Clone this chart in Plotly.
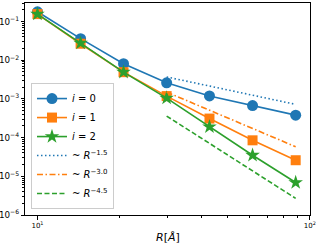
import plotly.graph_objects as go
import math

R = [10, 14.4, 20.7, 29.8, 42.8, 61.6, 88.7]
i0 = [0.178, 0.036, 0.0081, 0.0026, 0.00119, 0.00067, 0.00038]
i1 = [0.155, 0.0266, 0.0049, 0.00118, 0.00031, 8.5e-5, 2.6e-5]
i2 = [0.155, 0.0276, 0.0049, 0.00105, 1.9e-4, 3.5e-5, 6.9e-6]

R_fit = [29.8, 88.7]
fit15 = [3.69e-3, 7.2e-4]
fit30 = [1.5e-3, 5.8e-5]
fit45 = [3.6e-4, 2.69e-6]

x_tickvals = [10, 100]
x_ticktext = ["10<sup>1</sup>", "10<sup>2</sup>"]

BLUE, ORANGE, GREEN = "#1f77b4", "#ff7f0e", "#2ca02c"
FONT = "DejaVu Sans"

fig = go.Figure()
fig.add_trace(go.Scatter(x=R, y=i0, mode="lines+markers", name="<i>i</i> = 0",
                         line=dict(color=BLUE, width=1.6),
                         marker=dict(symbol="circle", size=11, color=BLUE)))
fig.add_trace(go.Scatter(x=R, y=i1, mode="lines+markers", name="<i>i</i> = 1",
                         line=dict(color=ORANGE, width=1.6),
                         marker=dict(symbol="square", size=10, color=ORANGE)))
fig.add_trace(go.Scatter(x=R, y=i2, mode="lines+markers", name="<i>i</i> = 2",
                         line=dict(color=GREEN, width=1.6),
                         marker=dict(symbol="star", size=11, color=GREEN)))
fig.add_trace(go.Scatter(x=R_fit, y=fit15, mode="lines", name="~ <i>R</i><sup>−1.5</sup>",
                         line=dict(color=BLUE, width=1.6, dash="1.5px,2.5px")))
fig.add_trace(go.Scatter(x=R_fit, y=fit30, mode="lines", name="~ <i>R</i><sup>−3.0</sup>",
                         line=dict(color=ORANGE, width=1.6, dash="6px,2.5px,1.5px,2.5px")))
fig.add_trace(go.Scatter(x=R_fit, y=fit45, mode="lines", name="~ <i>R</i><sup>−4.5</sup>",
                         line=dict(color=GREEN, width=1.6, dash="5px,2.5px")))

axis_common = dict(showgrid=False, zeroline=False, showline=True, linecolor="black",
                   linewidth=1, mirror=True, ticks="outside", ticklen=3.5, tickwidth=1,
                   tickcolor="black", exponentformat="power", automargin=False,
                   tickfont=dict(family=FONT, size=7, color="black"),
                   minor=dict(ticks="outside", ticklen=2, tickwidth=0.7, tickcolor="black", dtick="D1"))

fig.update_xaxes(type="log", range=[math.log10(9), 2.0005],
                 tickmode="array", tickvals=x_tickvals, ticktext=x_ticktext,
                 **axis_common)
fig.update_yaxes(type="log", range=[-6, math.log10(0.3)], dtick=1, **axis_common)

fig.add_annotation(text="<i>R</i>[<i>Å</i>]", xref="paper", yref="paper",
                   x=0.5, y=-0.104, xanchor="center", yanchor="middle", showarrow=False,
                   font=dict(family=FONT, size=11, color="black"))

fig.update_layout(
    width=318, height=245,
    margin=dict(l=25, r=8, t=3, b=30),
    paper_bgcolor="white", plot_bgcolor="white",
    font=dict(family=FONT, color="black"),
    legend=dict(x=0.021, y=0.028, xanchor="left", yanchor="bottom",
                bgcolor="rgba(255,255,255,0.8)", bordercolor="#cccccc", borderwidth=1,
                font=dict(family=FONT, size=10, color="black"),
                tracegroupgap=0, itemwidth=30),
    showlegend=True,
)

fig.write_html("out.html", config={"displayModeBar": False},
               post_script="document.body.style.margin='0';document.body.style.overflow='hidden';")
